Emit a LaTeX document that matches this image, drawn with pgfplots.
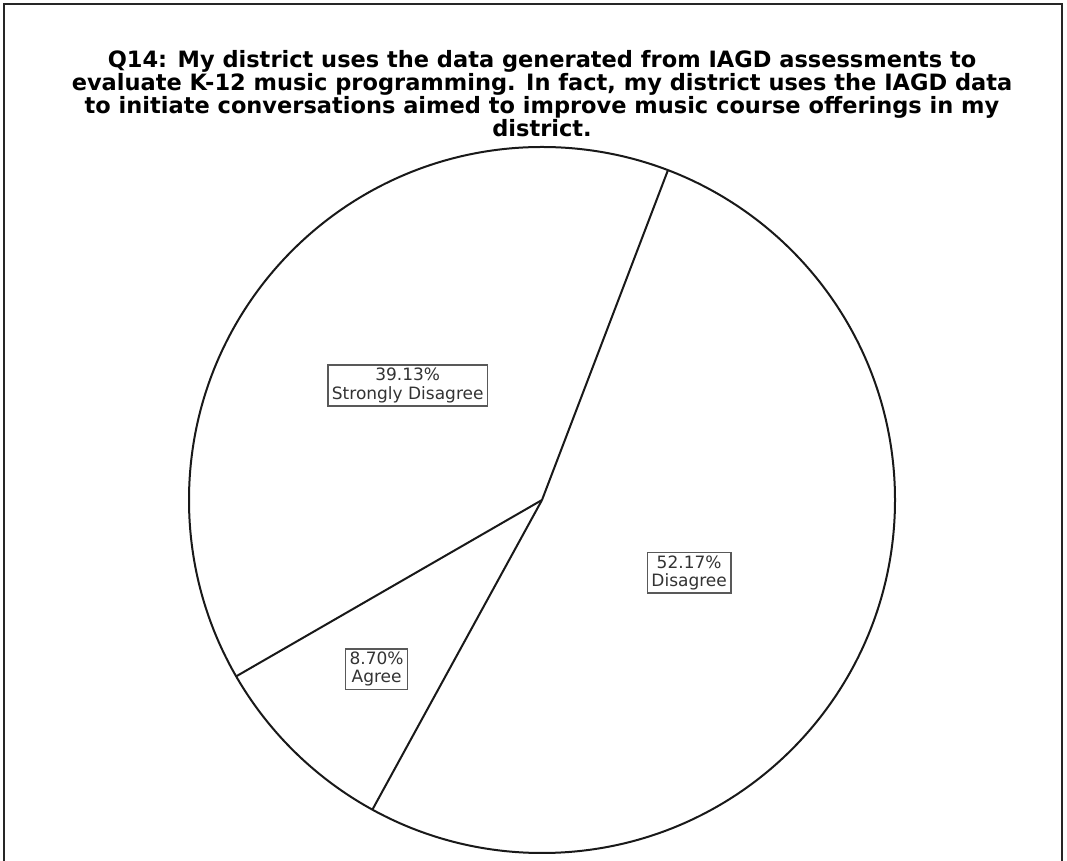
\documentclass[border=0pt]{standalone}
\usepackage{fontspec}
\setmainfont{DejaVu Sans}
\usepackage{pgfplots}
\pgfplotsset{compat=1.18}

% slice shares in percent, in drawing order (counter-clockwise)
\def\pSD{39.13}
\def\pAg{8.70}
\def\pDi{52.17}
\def\startangle{69.1}

\pgfmathsetmacro\aZero{\startangle}
\pgfmathsetmacro\aOne{\aZero+3.6*\pSD}
\pgfmathsetmacro\aTwo{\aOne+3.6*\pAg}
\pgfmathsetmacro\aThree{\aTwo+3.6*\pDi}
% slice boundaries on the unit circle
\pgfmathsetmacro\xZero{cos(\aZero)}\pgfmathsetmacro\yZero{sin(\aZero)}
\pgfmathsetmacro\xOne{cos(\aOne)}\pgfmathsetmacro\yOne{sin(\aOne)}
\pgfmathsetmacro\xTwo{cos(\aTwo)}\pgfmathsetmacro\yTwo{sin(\aTwo)}
% label anchors at the middle angle of each slice
\pgfmathsetmacro\xLA{0.50*cos((\aZero+\aOne)/2)}\pgfmathsetmacro\yLA{0.50*sin((\aZero+\aOne)/2)}
\pgfmathsetmacro\xLB{0.67*cos((\aOne+\aTwo)/2)}\pgfmathsetmacro\yLB{0.67*sin((\aOne+\aTwo)/2)}
\pgfmathsetmacro\xLC{0.465*cos((\aTwo+\aThree)/2-1.5)}\pgfmathsetmacro\yLC{0.465*sin((\aTwo+\aThree)/2-1.5)}

\begin{document}
\begin{tikzpicture}
\useasboundingbox (0pt,0pt) rectangle (1067pt,861pt);
\fill[white] (0pt,0pt) rectangle (1067pt,861pt);
% outer frame
\draw[black!85, line width=1.8pt] (4pt,-20pt) -- (4pt,857pt) -- (1062pt,857pt) -- (1062pt,-20pt);

\node[align=center, font=\fontsize{22.5}{21.5}\selectfont\bfseries, inner sep=0pt]
  at (542pt,767pt) {Q14: My district uses the data generated from IAGD assessments to\\
  evaluate K-12 music programming. In fact, my district uses the IAGD data\\
  to initiate conversations aimed to improve music course offerings in my\\
  district.};

\begin{axis}[
  at={(542pt,361pt)}, anchor=center,
  width=706pt, height=706pt, scale only axis,
  xmin=-1, xmax=1, ymin=-1, ymax=1,
  hide axis, clip=false,
]
\draw[black!90, line width=2pt] (axis cs:0,0) circle[radius=1];
\addplot[black!90, line width=2pt] coordinates {(0,0) (\xZero,\yZero)};
\addplot[black!90, line width=2pt] coordinates {(0,0) (\xOne,\yOne)};
\addplot[black!90, line width=2pt] coordinates {(0,0) (\xTwo,\yTwo)};

\node[draw=black!65, line width=1.6pt, fill=white, align=center,
  text=black!80, font=\fontsize{17}{18.5}\selectfont, inner xsep=4pt, inner ysep=3pt]
  at (axis cs:\xLA,\yLA) {\pSD\%\\Strongly Disagree};
\node[draw=black!65, line width=1.6pt, fill=white, align=center,
  text=black!80, font=\fontsize{17}{18.5}\selectfont, inner xsep=4pt, inner ysep=3pt]
  at (axis cs:\xLB,\yLB) {\pAg\%\\Agree};
\node[draw=black!65, line width=1.6pt, fill=white, align=center,
  text=black!80, font=\fontsize{17}{18.5}\selectfont, inner xsep=4pt, inner ysep=3pt]
  at (axis cs:\xLC,\yLC) {\pDi\%\\Disagree};
\end{axis}
\end{tikzpicture}
\end{document}
